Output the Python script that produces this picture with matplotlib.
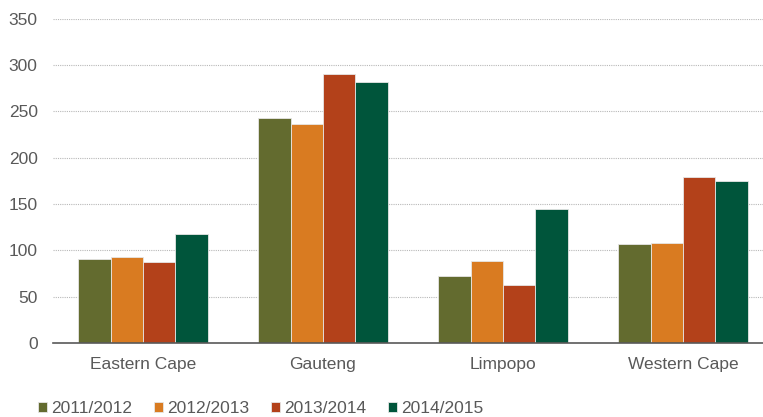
import numpy as np
import matplotlib.pyplot as plt

plt.rcParams["font.family"] = ["Liberation Sans", "DejaVu Sans"]

provinces = ["Eastern Cape", "Gauteng", "Limpopo", "Western Cape"]
years = ["2011/2012", "2012/2013", "2013/2014", "2014/2015"]
v_2011 = [91, 243, 72, 107]
v_2012 = [93, 236, 89, 108]
v_2013 = [87, 290, 63, 179]
v_2014 = [118, 282, 145, 175]
series = [v_2011, v_2012, v_2013, v_2014]
colors = ["#636b2f", "#d97b21", "#b3411a", "#00553b"]

fig = plt.figure(figsize=(7.63, 4.17), dpi=100)
ax = fig.add_axes([53 / 763, 1 - 343 / 417, 720 / 763, (343 - 18.7) / 417])

x = np.arange(len(provinces))
w = 0.18
for i, (vals, c, lab) in enumerate(zip(series, colors, years)):
    ax.bar(x + (i - 1.5) * w, vals, w, color=c, label=lab,
           edgecolor="#e6e6e6", linewidth=0.6, zorder=3)

ax.set_xlim(-0.5, 3.5)
ax.set_ylim(0, 350)
ax.set_yticks(range(0, 351, 50))
ax.set_xticks(x)
ax.set_xticklabels(provinces)
ax.grid(axis="y", color="#b8b8b8", linestyle=(0, (1, 1)), linewidth=0.8, zorder=0)
for s in ["top", "right", "left"]:
    ax.spines[s].set_visible(False)
ax.spines["bottom"].set_color("#595959")
ax.spines["bottom"].set_linewidth(1.2)
ax.spines["bottom"].set_zorder(4)
ax.tick_params(axis="both", length=0, labelsize=12.5, colors="#595959")
ax.tick_params(axis="y", pad=11)
ax.tick_params(axis="x", pad=10)

fig.legend(loc="lower left", bbox_to_anchor=(31 / 763, -0.014), ncol=4,
           frameon=False, fontsize=12.5, labelcolor="#595959",
           handlelength=0.5, handleheight=0.5, handletextpad=0.25,
           columnspacing=1.27, borderaxespad=0)

fig.savefig("out.png", dpi=100)
